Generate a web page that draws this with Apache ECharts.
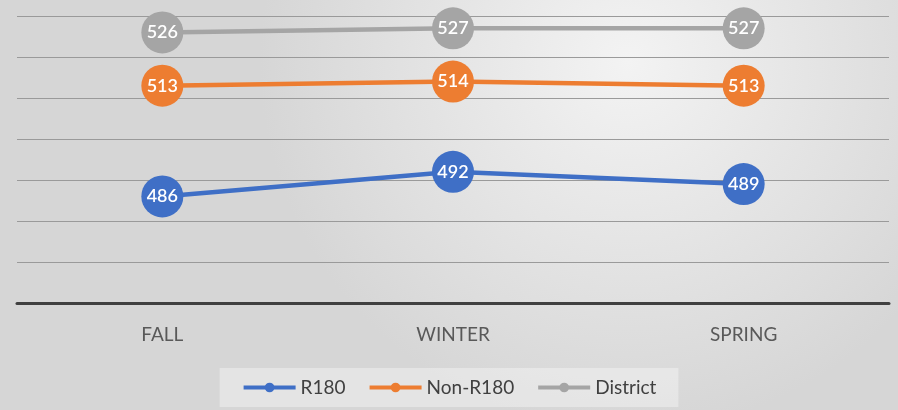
<!DOCTYPE html>
<html>
<head>
<meta charset="utf-8">
<script src="https://cdn.jsdelivr.net/npm/echarts@6/dist/echarts.min.js"></script>
<style>
  html, body { margin: 0; padding: 0; }
  #chart { width: 898px; height: 410px; }
</style>
</head>
<body>
<div id="chart"></div>
<script>
const categories = ['FALL', 'WINTER', 'SPRING']
const r180 = [486, 492, 489]
const nonR180 = [513, 514, 513]
const district = [526, 527, 527]

const colors = ['#3F6FC6', '#ED7D31', '#A5A5A5']
const labelFont = 'Lato, "Open Sans", sans-serif'

function makeSeries(name, data, color) {
  return {
    name: name,
    type: 'line',
    data: data,
    symbol: 'circle',
    symbolSize: 42,
    itemStyle: { color: color },
    lineStyle: { color: color, width: 4.5 },
    label: {
      show: true,
      position: 'inside',
      color: '#ffffff',
      fontFamily: labelFont,
      fontSize: 18,
      fontWeight: 600
    },
    emphasis: { disabled: true }
  }
}

const chart = echarts.init(document.getElementById('chart'))
chart.setOption({
  animation: false,
  backgroundColor: {
    type: 'radial',
    x: 0.7, y: 0.15, r: 0.9,
    colorStops: [
      { offset: 0, color: '#f3f3f3' },
      { offset: 1, color: '#d6d6d6' }
    ]
  },
  grid: { left: 17, right: 9, top: 16, bottom: 107 },
  legend: {
    bottom: 3,
    left: 'center',
    data: ['R180', 'Non-R180', 'District'],
    itemWidth: 52,
    itemHeight: 12,
    itemGap: 22,
    padding: [10, 22, 10, 22],
    backgroundColor: 'rgba(255,255,255,0.35)',
    lineStyle: { width: 4 },
    textStyle: { color: '#404040', fontSize: 19, fontFamily: labelFont }
  },
  xAxis: {
    type: 'category',
    data: categories,
    axisLine: { lineStyle: { color: '#404040', width: 3 } },
    axisTick: { show: false },
    axisLabel: { color: '#595959', fontSize: 19, fontFamily: labelFont, margin: 22 }
  },
  yAxis: {
    type: 'value',
    min: 460,
    max: 530,
    interval: 10,
    axisLabel: { show: false },
    axisLine: { show: false },
    axisTick: { show: false },
    splitLine: { lineStyle: { color: '#9a9a9a', width: 1 } }
  },
  series: [
    makeSeries('R180', r180, colors[0]),
    makeSeries('Non-R180', nonR180, colors[1]),
    makeSeries('District', district, colors[2])
  ]
})
</script>
</body>
</html>
